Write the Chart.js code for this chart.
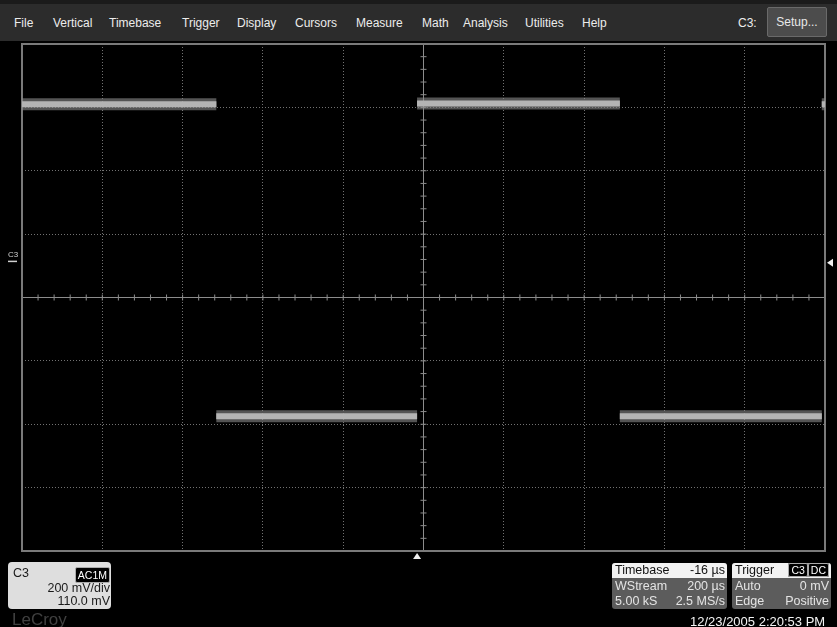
<!DOCTYPE html>
<html>
<head>
<meta charset="utf-8">
<script src="https://cdn.jsdelivr.net/npm/chart.js@4.4.1/dist/chart.umd.min.js"></script>
<style>
  body { margin: 0; background: #000; }
  #scope { position: relative; width: 837px; height: 627px; overflow: hidden; background: #000;
           font-family: "Liberation Sans", Arial, sans-serif; }
  #trace { position: absolute; left: 0; top: 0; }
  #menu { position: absolute; left: 0; top: 0; width: 837px; height: 41px;
          background: linear-gradient(#1b1b1b 0, #1b1b1b 4px, #2c2c2c 4px, #2c2c2c 100%); }
  #menu span { position: absolute; top: 16px; font-size: 12px; line-height: 14px; color: #ececec; }
  #setup { position: absolute; left: 767px; top: 7px; width: 60px; height: 30px; box-sizing: border-box;
           background: #4c4c4c; border: 1px solid #6a6a6a; border-radius: 2px;
           color: #e8e8e8; font-size: 12px; line-height: 28px; text-align: center; }
  .abs { position: absolute; }
  #chbox { left: 8px; top: 562px; width: 103px; height: 47px; background: #dedede; border-radius: 4px; color: #1a1a1a; font-size: 12.5px; }
  #chbox div { position: absolute; line-height: 14px; }
  .badge { background: #000; color: #fff; font-size: 10.5px; line-height: 11px; padding: 0 2px; border: 1px solid #aaa; border-radius: 2px; }
  #logo { left: 12px; top: 610px; font-size: 17px; color: #404040; }
  .info { top: 563px; height: 46px; background: #5c5c5c; border-radius: 3px; overflow: hidden; font-size: 12.5px; color: #e4e4e4; }
  .row { position: absolute; left: 0; right: 0; height: 15px; line-height: 15px; }
  .row .l { position: absolute; left: 3px; }
  .row .r { position: absolute; right: 2px; }
  .row.head { background: #f2f2f2; color: #111; }
  #date { left: 690px; top: 614px; font-size: 13px; color: #f4f4f4; }
  #c3mark { left: 8px; top: 251px; font-size: 8px; line-height: 8px; color: #d0d0d0; }
</style>
</head>
<body>
<div id="scope">
  <canvas id="trace" width="837" height="627"></canvas>
  <div id="menu">
    <span style="left:14px">File</span>
    <span style="left:53px">Vertical</span>
    <span style="left:109px">Timebase</span>
    <span style="left:182px">Trigger</span>
    <span style="left:237px">Display</span>
    <span style="left:295px">Cursors</span>
    <span style="left:356px">Measure</span>
    <span style="left:422px">Math</span>
    <span style="left:463px">Analysis</span>
    <span style="left:525px">Utilities</span>
    <span style="left:582px">Help</span>
    <span style="left:738px">C3:</span>
    <div id="setup">Setup...</div>
  </div>
  <div id="c3mark" class="abs">C3</div>
  <div id="chbox" class="abs">
    <div style="left:5px; top:4px">C3</div>
    <div class="badge" style="right:1px; top:5px">AC1M</div>
    <div style="right:1px; top:19px">200 mV/div</div>
    <div style="right:1px; top:32px">110.0 mV</div>
  </div>
  <div id="logo" class="abs">LeCroy</div>
  <div class="abs info" style="left:612px; width:115px">
    <div class="row head" style="top:0"><span class="l">Timebase</span><span class="r">-16 µs</span></div>
    <div class="row" style="top:16px"><span class="l">WStream</span><span class="r">200 µs</span></div>
    <div class="row" style="top:31px"><span class="l">5.00 kS</span><span class="r">2.5 MS/s</span></div>
  </div>
  <div class="abs info" style="left:732px; width:99px">
    <div class="row head" style="top:0"><span class="l">Trigger</span>
      <span class="r"><span class="badge">C3</span><span class="badge">DC</span></span></div>
    <div class="row" style="top:16px"><span class="l">Auto</span><span class="r">0 mV</span></div>
    <div class="row" style="top:31px"><span class="l">Edge</span><span class="r">Positive</span></div>
  </div>
  <div id="date" class="abs">12/23/2005 2:20:53 PM</div>
</div>
<script>
// timebase 200 us/div with -16 us delay, C3 at 200 mV/div with 110 mV offset
var timeMin = -984, timeMax = 1016, timePerDiv = 200;
var voltMin = -910, voltMax = 690, voltPerDiv = 200;
var trigTime = 0, trigLevel = 0;

// flat parts of the square wave, in us and mV
var segStart = [-984, -500, 0, 505, 1008];
var segEnd   = [-500, 0, 505, 1008, 1016];
var segLevel = [500, -485, 502, -485, 500];

function traceData() {
    var pts = [];
    for (var i = 0; i < segStart.length; i++) {
        pts.push({ x: segStart[i], y: segLevel[i] });
        pts.push({ x: segEnd[i], y: segLevel[i] });
        pts.push({ x: segEnd[i], y: null });
    }
    return pts;
}

function divTicks(min, perDiv) {
    return function (scale) {
        var t = [];
        for (var k = 0; k <= Math.round((scale.max - min) / perDiv); k++) t.push({ value: min + k * perDiv });
        scale.ticks = t;
    };
}

var scopeGrid = {
    id: 'scopeGrid',
    beforeDatasetsDraw: function (chart) {
        var ctx = chart.ctx, a = chart.chartArea;
        var xs = chart.scales.x, ys = chart.scales.y;
        var cx = xs.getPixelForValue((timeMin + timeMax) / 2);
        var cy = ys.getPixelForValue((voltMin + voltMax) / 2);
        ctx.save();
        ctx.strokeStyle = '#8c8c8c';
        ctx.lineWidth = 1;
        ctx.beginPath();
        ctx.moveTo(a.left, cy); ctx.lineTo(a.right, cy);
        ctx.moveTo(cx, a.top); ctx.lineTo(cx, a.bottom);
        for (var t = timeMin; t <= timeMax; t += timePerDiv / 5) {
            var px = xs.getPixelForValue(t);
            ctx.moveTo(px, cy - 3); ctx.lineTo(px, cy + 3);
        }
        for (var v = voltMin; v <= voltMax; v += voltPerDiv / 5) {
            var py = ys.getPixelForValue(v);
            ctx.moveTo(cx - 3, py); ctx.lineTo(cx + 3, py);
        }
        ctx.stroke();
        ctx.strokeStyle = '#7a7a7a';
        ctx.lineWidth = 2;
        ctx.strokeRect(a.left, a.top, a.right - a.left, a.bottom - a.top);
        ctx.restore();
    },
    afterDraw: function (chart) {
        var ctx = chart.ctx, a = chart.chartArea;
        var tx = chart.scales.x.getPixelForValue(trigTime);
        var ty = chart.scales.y.getPixelForValue(trigLevel);
        ctx.save();
        ctx.fillStyle = '#f0f0f0';
        ctx.beginPath();
        ctx.moveTo(tx, a.bottom + 2); ctx.lineTo(tx - 4, a.bottom + 8); ctx.lineTo(tx + 4, a.bottom + 8);
        ctx.closePath(); ctx.fill();
        ctx.beginPath();
        ctx.moveTo(a.right + 2, ty); ctx.lineTo(a.right + 8, ty - 4); ctx.lineTo(a.right + 8, ty + 4);
        ctx.closePath(); ctx.fill();
        ctx.fillStyle = '#d0d0d0';
        ctx.fillRect(8, ty - 2, 9, 1.5);
        ctx.restore();
    }
};

new Chart(document.getElementById('trace').getContext('2d'), {
    type: 'line',
    data: {
        datasets: [{
            data: traceData(),
            borderColor: 'rgba(140,140,140,0.6)',
            borderWidth: 12,
            spanGaps: false
        }, {
            data: traceData(),
            borderColor: '#efefef',
            borderWidth: 6,
            spanGaps: false
        }]
    },
    options: {
        responsive: false,
        animation: false,
        layout: { padding: { left: 22, right: 12, top: 44, bottom: 76 } },
        elements: { point: { radius: 0 }, line: { tension: 0 } },
        plugins: { legend: { display: false }, tooltip: { enabled: false } },
        scales: {
            x: {
                type: 'linear', min: timeMin, max: timeMax,
                afterBuildTicks: divTicks(timeMin, timePerDiv),
                ticks: { display: false },
                grid: { color: '#727272', drawTicks: false },
                border: { display: false, dash: [1, 2] }
            },
            y: {
                type: 'linear', min: voltMin, max: voltMax,
                afterBuildTicks: divTicks(voltMin, voltPerDiv),
                ticks: { display: false },
                grid: { color: '#727272', drawTicks: false },
                border: { display: false, dash: [1, 2] }
            }
        }
    },
    plugins: [scopeGrid]
});
</script>
</body>
</html>
